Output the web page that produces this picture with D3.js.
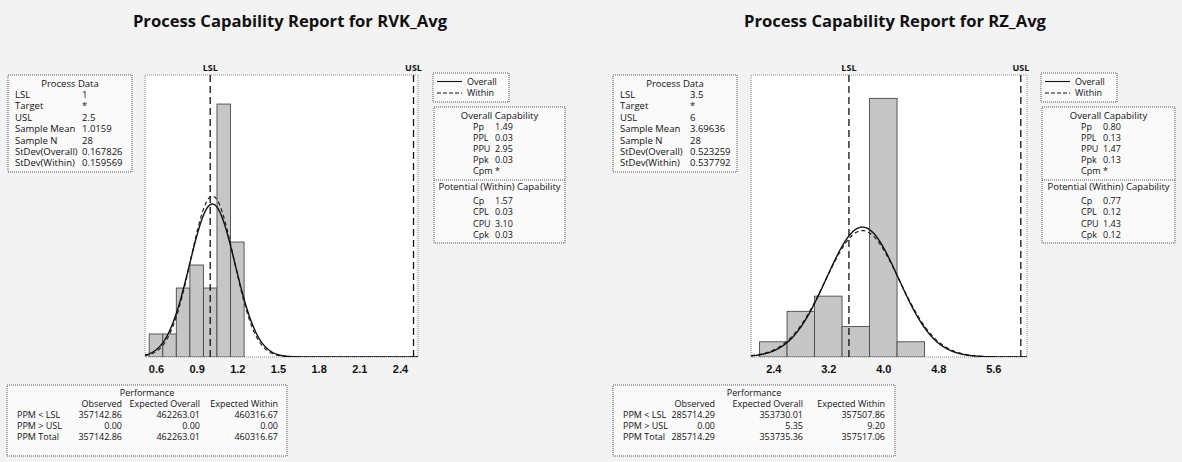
<!DOCTYPE html>
<html>
<head>
<meta charset="utf-8">
<script src="https://cdn.jsdelivr.net/npm/d3@7"></script>
<style>
  body { margin: 0; background: #f3f3f3; }
  svg { display: block; font-family: "Open Sans", "Noto Sans", sans-serif; }
  .title { font-weight: 700; font-size: 16.6px; fill: #111; }
  .small { font-size: 9.5px; fill: #111; }
  .cap { font-size: 9px; }
  .perf { font-size: 9px; }
  .leg { font-size: 9px; }
  .tick text { font-size: 11px; font-weight: 600; fill: #111; }
</style>
</head>
<body>
<div id="chart"></div>
<script>
// ---- RVK_Avg ----
const rvkBinEdges = [0.55, 0.65, 0.75, 0.85, 0.95, 1.05, 1.15, 1.25];
const rvkCounts = [1, 1, 3, 4, 3, 11, 5];
const rvkTicks = [0.6, 0.9, 1.2, 1.5, 1.8, 2.1, 2.4];
const rvkStats = {lsl: 1, usl: 2.5, mean: 1.0159, n: 28, sdOverall: 0.167826, sdWithin: 0.159569};
const rvkProcess = [["LSL", "1"], ["Target", "*"], ["USL", "2.5"], ["Sample Mean", "1.0159"],
  ["Sample N", "28"], ["StDev(Overall)", "0.167826"], ["StDev(Within)", "0.159569"]];
const rvkOverallCap = [["Pp", "1.49"], ["PPL", "0.03"], ["PPU", "2.95"], ["Ppk", "0.03"], ["Cpm", "*"]];
const rvkWithinCap = [["Cp", "1.57"], ["CPL", "0.03"], ["CPU", "3.10"], ["Cpk", "0.03"]];
const rvkPerf = [["PPM < LSL", "357142.86", "462263.01", "460316.67"],
  ["PPM > USL", "0.00", "0.00", "0.00"],
  ["PPM Total", "357142.86", "462263.01", "460316.67"]];

// ---- RZ_Avg ----
const rzBinEdges = [2.2, 2.6, 3.0, 3.4, 3.8, 4.2, 4.6];
const rzCounts = [1, 3, 4, 2, 17, 1];
const rzTicks = [2.4, 3.2, 4.0, 4.8, 5.6];
const rzStats = {lsl: 3.5, usl: 6, mean: 3.69636, n: 28, sdOverall: 0.523259, sdWithin: 0.537792};
const rzProcess = [["LSL", "3.5"], ["Target", "*"], ["USL", "6"], ["Sample Mean", "3.69636"],
  ["Sample N", "28"], ["StDev(Overall)", "0.523259"], ["StDev(Within)", "0.537792"]];
const rzOverallCap = [["Pp", "0.80"], ["PPL", "0.13"], ["PPU", "1.47"], ["Ppk", "0.13"], ["Cpm", "*"]];
const rzWithinCap = [["Cp", "0.77"], ["CPL", "0.12"], ["CPU", "1.43"], ["Cpk", "0.12"]];
const rzPerf = [["PPM < LSL", "285714.29", "353730.01", "357507.86"],
  ["PPM > USL", "0.00", "5.35", "9.20"],
  ["PPM Total", "285714.29", "353735.36", "357517.06"]];

const perfHeads = ["Observed", "Expected Overall", "Expected Within"];

const W = 1182, H = 462;
const svg = d3.select("#chart").append("svg").attr("width", W).attr("height", H);

const normal = (x, m, s) => Math.exp(-0.5 * ((x - m) / s) ** 2) / (s * Math.sqrt(2 * Math.PI));

function drawReport(cfg) {
  const g = svg.append("g");
  const fr = cfg.frame;

  // Title
  g.append("text").attr("class", "title")
    .attr("x", cfg.titleX).attr("y", 27).attr("text-anchor", "middle")
    .text(cfg.title);

  // Scales
  const x = d3.scaleLinear().domain(cfg.xDomain).range([fr.x0, fr.x1]);
  const y = d3.scaleLinear().domain([0, cfg.yMax]).range([fr.y1, fr.y0]);

  // Plot area
  g.append("rect")
    .attr("x", fr.x0).attr("y", fr.y0)
    .attr("width", fr.x1 - fr.x0).attr("height", fr.y1 - fr.y0)
    .attr("fill", "#fff").attr("stroke", "#8a8a8a").attr("stroke-dasharray", "1,1");

  const clipId = "clip-" + cfg.id;
  g.append("clipPath").attr("id", clipId).append("rect")
    .attr("x", fr.x0).attr("y", fr.y0)
    .attr("width", fr.x1 - fr.x0).attr("height", fr.y1 - fr.y0);
  const pg = g.append("g").attr("clip-path", `url(#${clipId})`);

  // Histogram bars (density)
  const n = d3.sum(cfg.counts);
  const bins = cfg.counts.map((c, i) => ({
    x0: cfg.edges[i], x1: cfg.edges[i + 1],
    d: c / (n * (cfg.edges[i + 1] - cfg.edges[i]))
  }));
  pg.selectAll(".bar").data(bins).enter().append("rect")
    .attr("class", "bar")
    .attr("x", d => x(d.x0)).attr("width", d => x(d.x1) - x(d.x0))
    .attr("y", d => y(d.d)).attr("height", d => y(0) - y(d.d))
    .attr("fill", "#c6c6c6").attr("stroke", "#4a4a4a").attr("stroke-width", 0.9);

  // Spec limits
  [["LSL", cfg.stats.lsl], ["USL", cfg.stats.usl]].forEach(([lab, v]) => {
    g.append("line")
      .attr("x1", x(v)).attr("x2", x(v)).attr("y1", fr.y0).attr("y2", fr.y1)
      .attr("stroke", "#111").attr("stroke-width", 1.3).attr("stroke-dasharray", "7,4");
    g.append("text").attr("class", "small")
      .attr("x", x(v)).attr("y", fr.y0 - 4).attr("text-anchor", "middle")
      .style("font-size", "9px").style("font-weight", 700).text(lab);
  });

  // Fitted normal curves
  const xs = d3.range(0, 401).map(i => cfg.xDomain[0] + (cfg.xDomain[1] - cfg.xDomain[0]) * i / 400);
  const line = d3.line().x(d => x(d[0])).y(d => y(d[1]));
  pg.append("path")
    .attr("d", line(xs.map(v => [v, normal(v, cfg.stats.mean, cfg.stats.sdWithin)])))
    .attr("fill", "none").attr("stroke", "#222").attr("stroke-width", 1.2).attr("stroke-dasharray", "4,3");
  pg.append("path")
    .attr("d", line(xs.map(v => [v, normal(v, cfg.stats.mean, cfg.stats.sdOverall)])))
    .attr("fill", "none").attr("stroke", "#111").attr("stroke-width", 1.4);

  // X axis
  const ax = g.append("g").attr("transform", `translate(0,${fr.y1 + 1})`)
    .call(d3.axisBottom(x).tickValues(cfg.ticks).tickSize(0).tickPadding(7).tickFormat(d3.format(".1f")));
  ax.select(".domain").remove();
  ax.selectAll("text").attr("font-family", null).attr("font-size", null);

  // Boxes
  const box = (b) => g.append("rect")
    .attr("x", b.x).attr("y", b.y).attr("width", b.w).attr("height", b.h)
    .attr("fill", "#fafafa").attr("stroke", "#555").attr("stroke-dasharray", "1,1");

  // Process Data
  const pb = cfg.processBox;
  box(pb);
  g.append("text").attr("class", "small").attr("x", pb.x + pb.w / 2).attr("y", pb.y + 11.5)
    .attr("text-anchor", "middle").text("Process Data");
  cfg.process.forEach((r, i) => {
    const yy = pb.y + 23 + i * 11.4;
    g.append("text").attr("class", "small").attr("x", pb.x + 7).attr("y", yy).text(r[0]);
    g.append("text").attr("class", "small").attr("x", pb.x + pb.valX).attr("y", yy).text(r[1]);
  });

  // Legend
  const lb = cfg.legendBox;
  box(lb);
  [["Overall", null, 8.5], ["Within", "4,2", 20]].forEach(([lab, dash, dy]) => {
    g.append("line").attr("x1", lb.x + 4).attr("x2", lb.x + 29)
      .attr("y1", lb.y + dy).attr("y2", lb.y + dy)
      .attr("stroke", "#111").attr("stroke-width", 1.1).attr("stroke-dasharray", dash);
    g.append("text").attr("class", "small leg").attr("x", lb.x + 34).attr("y", lb.y + dy + 3.2).text(lab);
  });

  // Capability
  const cb = cfg.capBox;
  box(cb);
  g.append("text").attr("class", "small").attr("x", cb.x + cb.w / 2).attr("y", cb.y + 11.5)
    .attr("text-anchor", "middle").text("Overall Capability");
  cfg.overallCap.forEach((r, i) => {
    const yy = cb.y + 22.5 + i * 11;
    g.append("text").attr("class", "small cap").attr("x", cb.x + 39).attr("y", yy).text(r[0]);
    g.append("text").attr("class", "small cap").attr("x", cb.x + 61).attr("y", yy).text(r[1]);
  });
  g.append("line").attr("x1", cb.x).attr("x2", cb.x + cb.w)
    .attr("y1", cb.y + 73).attr("y2", cb.y + 73)
    .attr("stroke", "#555").attr("stroke-dasharray", "1,1");
  g.append("text").attr("class", "small").attr("x", cb.x + cb.w / 2).attr("y", cb.y + 83)
    .attr("text-anchor", "middle").text("Potential (Within) Capability");
  cfg.withinCap.forEach((r, i) => {
    const yy = cb.y + 97 + i * 11.4;
    g.append("text").attr("class", "small cap").attr("x", cb.x + 39).attr("y", yy).text(r[0]);
    g.append("text").attr("class", "small cap").attr("x", cb.x + 61).attr("y", yy).text(r[1]);
  });

  // Performance
  const fb = cfg.perfBox;
  box(fb);
  g.append("text").attr("class", "small perf").attr("x", fb.x + fb.w / 2).attr("y", fb.y + 11)
    .attr("text-anchor", "middle").text("Performance");
  perfHeads.forEach((h, j) => {
    g.append("text").attr("class", "small perf").attr("x", fb.x + fb.cols[j]).attr("y", fb.y + 22)
      .attr("text-anchor", "end").text(h);
  });
  cfg.perf.forEach((r, i) => {
    const yy = fb.y + 33 + i * 11;
    g.append("text").attr("class", "small perf").attr("x", fb.x + 10).attr("y", yy).text(r[0]);
    r.slice(1).forEach((v, j) => {
      g.append("text").attr("class", "small perf").attr("x", fb.x + fb.cols[j]).attr("y", yy)
        .attr("text-anchor", "end").text(v);
    });
  });
}

drawReport({
  id: "rvk", title: "Process Capability Report for RVK_Avg", titleX: 290,
  edges: rvkBinEdges, counts: rvkCounts, ticks: rvkTicks, stats: rvkStats,
  process: rvkProcess, overallCap: rvkOverallCap, withinCap: rvkWithinCap, perf: rvkPerf,
  xDomain: [0.519, 2.533], yMax: 4.38,
  frame: {x0: 145, x1: 418, y0: 75, y1: 357},
  processBox: {x: 8, y: 75, w: 124, h: 97, valX: 74},
  legendBox: {x: 433, y: 73, w: 76, h: 29},
  capBox: {x: 434, y: 107, w: 131, h: 136},
  perfBox: {x: 7, y: 385, w: 280, h: 71, cols: [115, 193, 271]}
});

drawReport({
  id: "rz", title: "Process Capability Report for RZ_Avg", titleX: 895,
  edges: rzBinEdges, counts: rzCounts, ticks: rzTicks, stats: rzStats,
  process: rzProcess, overallCap: rzOverallCap, withinCap: rzWithinCap, perf: rzPerf,
  xDomain: [2.0756, 6.09], yMax: 1.655,
  frame: {x0: 751, x1: 1027, y0: 75, y1: 357},
  processBox: {x: 613, y: 75, w: 124, h: 97, valX: 77},
  legendBox: {x: 1041, y: 73, w: 76, h: 29},
  capBox: {x: 1042, y: 107, w: 133, h: 136},
  perfBox: {x: 613, y: 385, w: 282, h: 71, cols: [102, 190, 272]}
});
</script>
</body>
</html>
